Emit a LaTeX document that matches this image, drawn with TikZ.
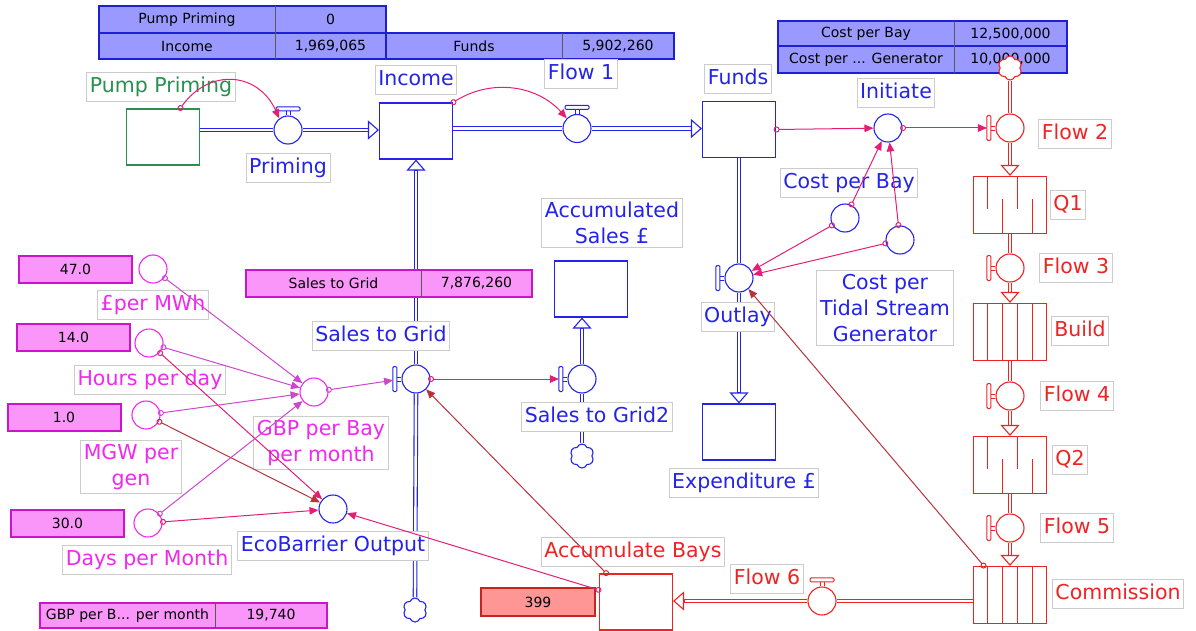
\documentclass[tikz,border=0pt]{standalone}
\usepackage{fontspec}
\setmainfont{DejaVu Sans}
\usetikzlibrary{calc,arrows.meta,shapes.symbols}

\definecolor{sblue}{RGB}{35,35,235}
\definecolor{sred}{RGB}{240,35,35}
\definecolor{sgreen}{RGB}{40,145,80}
\definecolor{smag}{RGB}{240,40,240}
\definecolor{lkpink}{RGB}{228,30,115}
\definecolor{lkmag}{RGB}{205,70,205}
\definecolor{lkdark}{RGB}{185,50,60}
\definecolor{tbfill}{RGB}{153,153,255}
\definecolor{tbline}{RGB}{30,30,215}
\definecolor{tpfill}{RGB}{250,150,250}
\definecolor{tpline}{RGB}{205,20,205}
\definecolor{trfill}{RGB}{255,150,150}
\definecolor{trline}{RGB}{200,35,35}

\newcommand{\lblfont}{\fontsize{20.5}{26}\selectfont}
\newcommand{\tabfont}{\fontsize{14}{16}\selectfont}

\newcommand{\pipeto}[3]{%
	\draw[pipe=#1, shorten >=10pt] (#2) -- (#3);
	\draw[pipetip=#1] ($(#3)!11pt!(#2)$) -- (#3);}
\newcommand{\handletop}[2]{%
	\draw[#2, line width=0.8pt] ($(#1.north)+(-2,0)$) -- ++(0,5) ($(#1.north)+(2,0)$) -- ++(0,5);
	\draw[#2, line width=1pt, fill=white, rounded corners=1.2pt] ($(#1.north)+(-12,4.5)$) rectangle ($(#1.north)+(12,8.5)$);}
\newcommand{\handleleft}[2]{%
	\draw[#2, line width=0.8pt] ($(#1.west)+(0,-2)$) -- ++(-5,0) ($(#1.west)+(0,2)$) -- ++(-5,0);
	\draw[#2, line width=1pt, fill=white, rounded corners=1.2pt] ($(#1.west)+(-8.5,-12.5)$) rectangle ($(#1.west)+(-4.5,12.5)$);}

\tikzset{
	stock/.style={draw=#1, line width=1.1pt, fill=white, minimum width=73pt, minimum height=56pt, inner sep=0pt},
	valve/.style={circle, draw=#1, line width=1.1pt, fill=white, minimum size=28pt, inner sep=0pt},
	aux/.style={circle, draw=#1, line width=1.1pt, minimum size=28pt, inner sep=0pt},
	cloudy/.style={cloud, cloud puffs=6, cloud puff arc=140, aspect=1, draw=#1, line width=1.1pt, fill=white, minimum width=24pt, minimum height=24pt, inner sep=0pt},
	pipe/.style={draw=#1, line width=1.1pt, double=white, double distance=2.4pt},
	pipetip/.style={draw=#1, line width=1.1pt, -{Triangle[fill=white, length=11pt, width=19pt]}},
	link/.style={draw=#1, line width=1pt, shorten <=-2.5pt, {Circle[open, length=6pt, width=6pt]}-{Triangle[length=9pt, width=7.5pt]}},
	lbl/.style={draw=gray!40, line width=0.8pt, fill=white, text=#1, font=\lblfont, inner xsep=3pt, inner ysep=4.5pt, text height=15.5pt, text depth=5pt},
	lbltwo/.style={draw=gray!40, line width=0.8pt, fill=white, text=#1, font=\lblfont, align=center, inner sep=3.5pt},
	bcell/.style={fill=tbfill, font=\tabfont, minimum height=26pt, inner sep=0pt},
	pcell/.style={fill=tpfill, font=\tabfont, minimum height=26pt, inner sep=0pt},
	vbox/.style={fill=tpfill, draw=tpline, line width=2pt, font=\tabfont, minimum width=113pt, minimum height=27pt, inner sep=0pt},
	bline/.style={draw=tbline, line width=2pt},
	pline/.style={draw=tpline, line width=2pt},
	gline/.style={draw=black!65, line width=1.3pt}
}

\begin{document}
\begin{tikzpicture}[x=1pt, y=1pt]
	\useasboundingbox (0,0) rectangle (1196,-631);

	\node[bcell, minimum width=176pt] (tpump) at (187,-19.5) {Pump Priming};
	\node[bcell, minimum width=111pt] (tpumpv) at (330.5,-19.5) {0};
	\node[bcell, minimum width=176pt] (tinc) at (187,-46) {Income};
	\node[bcell, minimum width=111pt] (tincv) at (330.5,-46) {1,969,065};
	\draw[bline] (tpump.north west) rectangle (tincv.south east);
	\draw[bline] (tinc.north west) -- (tincv.north east);
	\draw[gline] (tpump.north east) -- (tinc.south east);
	\node[bcell, minimum width=176pt] (tfund) at (474,-46) {Funds};
	\node[bcell, minimum width=112pt] (tfundv) at (618,-46) {5,902,260};
	\draw[bline] (tfund.north west) rectangle (tfundv.south east);
	\draw[gline] (tfund.north east) -- (tfund.south east);
	\node[bcell, minimum width=176pt] (tcpb) at (866,-34) {Cost per Bay};
	\node[bcell, minimum width=113pt] (tcpbv) at (1010.5,-34) {12,500,000};
	\node[bcell, minimum width=176pt] (tcpt) at (866,-59.5) {Cost per ... Generator};
	\node[bcell, minimum width=113pt] (tcptv) at (1010.5,-59.5) {10,000,000};
	\draw[bline] (tcpb.north west) rectangle (tcptv.south east);
	\draw[bline] (tcpt.north west) -- (tcptv.north east);
	\draw[gline] (tcpb.north east) -- (tcpt.south east);

	\node[stock=sgreen] (pp) at (163,-137) {};
	\node[stock=sblue] (income) at (416,-131) {};
	\node[stock=sblue] (funds) at (739,-129.5) {};
	\node[stock=sblue] (accsales) at (591,-289) {};
	\node[stock=sblue] (expend) at (739,-432) {};
	\node[stock=sred] (accb) at (636,-602) {};
	\node[stock=sred, minimum height=57pt] (q1) at (1010,-205) {};
	\node[stock=sred, minimum height=57pt] (build) at (1010,-332) {};
	\node[stock=sred, minimum height=57pt] (q2) at (1010,-465) {};
	\node[stock=sred, minimum height=57pt] (comm) at (1010,-595) {};
	\foreach \q in {q1,q2} {
		\foreach \i in {1,3} \draw[sred, line width=1.1pt] ($(\q.north west)!\i/5!(\q.north east)$) -- ++(0,-33);
		\foreach \i in {2,4} \draw[sred, line width=1.1pt] ($(\q.south west)!\i/5!(\q.south east)$) -- ++(0,35);
	}
	\foreach \q in {build,comm}
		\foreach \i in {1,...,4} \draw[sred, line width=1.1pt] ($(\q.north west)!\i/5!(\q.north east)$) -- ($(\q.south west)!\i/5!(\q.south east)$);

	\node[valve=sblue] (priming) at (288,-130) {};
	\node[valve=sblue] (flow1) at (577,-128.5) {};
	\node[valve=sblue] (s2g) at (416,-379) {};
	\node[valve=sblue] (s2g2) at (582,-379) {};
	\node[valve=sblue] (outlay) at (739,-278) {};
	\node[valve=sred] (flow2) at (1010,-128) {};
	\node[valve=sred] (flow3) at (1010,-268) {};
	\node[valve=sred] (flow4) at (1010,-396) {};
	\node[valve=sred] (flow5) at (1010,-528) {};
	\node[valve=sred] (flow6) at (822,-601) {};

	\node[aux=sblue] (init) at (888,-128) {};
	\node[aux=sblue] (cpb) at (845,-218) {};
	\node[aux=sblue] (cpt) at (900,-240) {};
	\node[aux=smag] (fmwh) at (153,-269) {};
	\node[aux=smag] (hpd) at (149,-343) {};
	\node[aux=smag] (mgw) at (146,-415) {};
	\node[aux=smag] (dpm) at (148,-523) {};
	\node[aux=smag] (gbp) at (314,-392) {};
	\node[aux=sblue] (eco) at (333,-509) {};

	\node[cloudy=sblue] (cl1) at (415,-610) {};
	\node[cloudy=sblue] (cl2) at (582,-456) {};
	\node[cloudy=sred] (cl3) at (1010,-68) {};

	\draw[pipe=sblue] (pp.east |- priming.west) -- (priming.west);
	\pipeto{sblue}{priming.east}{priming.east -| income.west}
	\draw[pipe=sblue] (flow1.west -| income.east) -- (flow1.west);
	\pipeto{sblue}{flow1.east}{flow1.east -| funds.west}
	\pipeto{sblue}{s2g.north}{income.south}
	\draw[pipe=sblue] (cl1.north) -- (s2g.south);
	\draw[pipe=sblue] (cl2.north) -- (s2g2.south);
	\pipeto{sblue}{s2g2.north}{s2g2.north |- accsales.south}
	\draw[pipe=sblue] (funds.south) -- (outlay.north);
	\pipeto{sblue}{outlay.south}{expend.north}
	\draw[pipe=sred] (cl3.south) -- (flow2.north);
	\pipeto{sred}{flow2.south}{q1.north}
	\draw[pipe=sred] (q1.south) -- (flow3.north);
	\pipeto{sred}{flow3.south}{build.north}
	\draw[pipe=sred] (build.south) -- (flow4.north);
	\pipeto{sred}{flow4.south}{q2.north}
	\draw[pipe=sred] (q2.south) -- (flow5.north);
	\pipeto{sred}{flow5.south}{comm.north}
	\draw[pipe=sred] (flow6.east -| comm.west) -- (flow6.east);
	\pipeto{sred}{flow6.west}{flow6.west -| accb.east}

	\handletop{priming}{sblue}
	\handletop{flow1}{sblue}
	\handletop{flow6}{sred}
	\handleleft{s2g}{sblue}
	\handleleft{s2g2}{sblue}
	\handleleft{outlay}{sblue}
	\handleleft{flow2}{sred}
	\handleleft{flow3}{sred}
	\handleleft{flow4}{sred}
	\handleleft{flow5}{sred}

	\node[pcell, minimum width=175pt, minimum height=27pt] (ts2g) at (333.5,-283.5) {Sales to Grid};
	\node[pcell, minimum width=111pt, minimum height=27pt] (ts2gv) at (476.5,-283.5) {7,876,260};
	\draw[pline] (ts2g.north west) rectangle (ts2gv.south east);
	\draw[gline] (ts2g.north east) -- (ts2g.south east);
	\node[pcell, minimum width=175pt, minimum height=25pt] (tgbp) at (127.5,-615.5) {GBP per B... per month};
	\node[pcell, minimum width=112pt, minimum height=25pt] (tgbpv) at (271,-615.5) {19,740};
	\draw[pline] (tgbp.north west) rectangle (tgbpv.south east);
	\draw[gline] (tgbp.north east) -- (tgbp.south east);
	\node[vbox] (v47) at (75.5,-269.5) {47.0};
	\node[vbox] (v14) at (73.5,-337.5) {14.0};
	\node[vbox] (v1) at (64,-417.5) {1.0};
	\node[vbox] (v30) at (67.5,-523.5) {30.0};
	\node[vbox, fill=trfill, draw=trline, minimum width=114pt, minimum height=28pt] (v399) at (538,-602) {399};

	\node[lbl=sgreen] (lpp) at (161,-87) {Pump Priming};
	\node[lbl=sblue] (lpriming) at (288,-168) {Priming};
	\node[lbl=sblue] (lincome) at (416,-80) {Income};
	\node[lbl=sblue] (lflow1) at (581,-74) {Flow 1};
	\node[lbl=sblue] (lfunds) at (738,-79) {Funds};
	\node[lbl=sblue] (linit) at (896,-93) {Initiate};
	\node[lbl=sred] (lflow2) at (1075,-134) {Flow 2};
	\node[lbl=sblue] (lcpb) at (849,-183) {Cost per Bay};
	\node[lbl=sred] (lq1) at (1068,-205) {Q1};
	\node[lbl=sred] (lflow3) at (1076,-268) {Flow 3};
	\node[lbl=sred] (lbuild) at (1080,-331) {Build};
	\node[lbl=sred] (lflow4) at (1077,-396) {Flow 4};
	\node[lbl=sred] (lq2) at (1070,-460) {Q2};
	\node[lbl=sred] (lflow5) at (1077,-528) {Flow 5};
	\node[lbl=sred] (lcomm) at (1118,-594) {Commission};
	\node[lbl=sred] (lflow6) at (767,-579) {Flow 6};
	\node[lbl=sred] (laccb) at (633,-552) {Accumulate Bays};
	\node[lbl=sblue] (lexpend) at (744,-483) {Expenditure £};
	\node[lbl=sblue] (loutlay) at (738,-317) {Outlay};
	\node[lbltwo=sblue] (lcpt) at (885,-308) {Cost per\\Tidal Stream\\Generator};
	\node[lbltwo=sblue] (laccsales) at (612,-223) {Accumulated\\Sales £};
	\node[lbl=sblue] (ls2g) at (381,-336) {Sales to Grid};
	\node[lbl=sblue] (ls2g2) at (597,-417) {Sales to Grid2};
	\node[lbl=smag] (lfmwh) at (153,-305) {£per MWh};
	\node[lbl=smag] (lhpd) at (150,-380) {Hours per day};
	\node[lbltwo=smag] (lmgw) at (131,-467) {MGW per\\gen};
	\node[lbltwo=smag] (lgbp) at (321,-443) {GBP per Bay\\per month};
	\node[lbl=smag] (ldpm) at (147,-560) {Days per Month};
	\node[lbl=sblue] (leco) at (333,-546) {EcoBarrier Output};

	\draw[link=lkpink] (pp.59) to[bend left=60, looseness=1.3] (priming.127);
	\draw[link=lkpink] (income.north east) to[bend left=40] (flow1.135);
	\draw[link=lkpink] (funds.east) -- (init);
	\draw[link=lkpink, shorten >=8.5pt] (init.east) -- (flow2.west);
	\draw[link=lkpink] (cpb) -- (init);
	\draw[link=lkpink] (cpt) -- (init);
	\draw[link=lkpink] (cpb) -- (outlay);
	\draw[link=lkpink] (cpt) -- (outlay);
	\draw[link=lkdark] (comm.132) -- (outlay);
	\draw[link=lkdark] (accb.136) -- (s2g);
	\draw[link=lkpink] (accb.162) -- (eco);
	\draw[link=lkpink, shorten >=8.5pt] (s2g.east) -- (s2g2.west);
	\draw[link=lkmag, shorten >=8.5pt] (gbp) -- (s2g.west);
	\draw[link=lkmag] (fmwh) -- (gbp);
	\draw[link=lkmag] (hpd) -- (gbp);
	\draw[link=lkpink] (hpd) -- (eco);
	\draw[link=lkmag] (mgw) -- (gbp);
	\draw[link=lkdark] (mgw) -- (eco);
	\draw[link=lkmag] (dpm) -- (gbp);
	\draw[link=lkpink] (dpm) -- (eco);
\end{tikzpicture}
\end{document}
